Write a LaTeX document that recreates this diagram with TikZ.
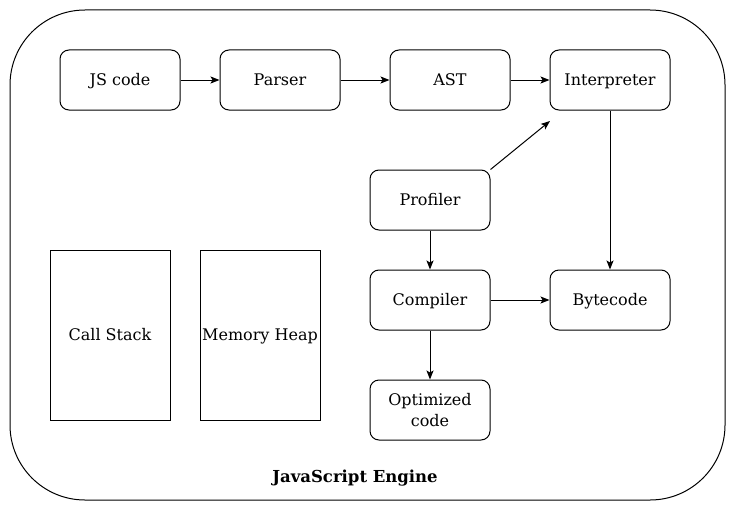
\documentclass[tikz,border=0pt]{standalone}
\usepackage{fontspec}
\setmainfont{DejaVu Serif}
\usetikzlibrary{arrows.meta}
\begin{document}
\begin{tikzpicture}[x=1pt,y=-1pt,
  boxbase/.style={draw,line width=1pt,rounded corners=9pt,minimum width=120pt,minimum height=60pt,inner sep=0pt,font=\fontsize{16}{21}\selectfont,align=center},
  box/.style={boxbase,text height=11.7pt,text depth=0pt},
  sqbox/.style={draw,line width=1pt,minimum width=120pt,minimum height=170pt,inner sep=0pt,text height=11.7pt,text depth=0pt,font=\fontsize{16}{21}\selectfont},
  arr/.style={line width=1pt,-{Stealth[length=9pt,width=7pt,inset=2pt]}}]
\useasboundingbox (0,0) rectangle (735,511);
\fill[white] (0,0) rectangle (735,511);
\draw[line width=1pt,rounded corners=75pt] (10,10) rectangle (725,500);
\node[box] (js) at (120,80) {JS code};
\node[box] (parser) at (280,80) {Parser};
\node[box] (ast) at (450,80) {AST};
\node[box] (interp) at (610,80) {Interpreter};
\node[box] (prof) at (430,200) {Profiler};
\node[box] (comp) at (430,300) {Compiler};
\node[box] (byte) at (610,300) {Bytecode};
\node[boxbase] (opt) at (430,410) {Optimized\\code};
\node[sqbox] (stack) at (110,335) {Call Stack};
\node[sqbox] (heap) at (260,335) {Memory Heap};
\node[font=\bfseries\fontsize{16.5}{20}\selectfont,text height=12pt,text depth=0pt,inner sep=0pt] (title) at (355,476) {JavaScript Engine};
\coordinate (pend) at (550,121);
\draw[arr] (js) -- (parser);
\draw[arr] (parser) -- (ast);
\draw[arr] (ast) -- (interp);
\draw[arr] (prof.north east) -- (pend);
\draw[arr] (interp) -- (byte);
\draw[arr] (prof) -- (comp);
\draw[arr] (comp) -- (byte);
\draw[arr] (comp) -- (opt);
\end{tikzpicture}
\end{document}
